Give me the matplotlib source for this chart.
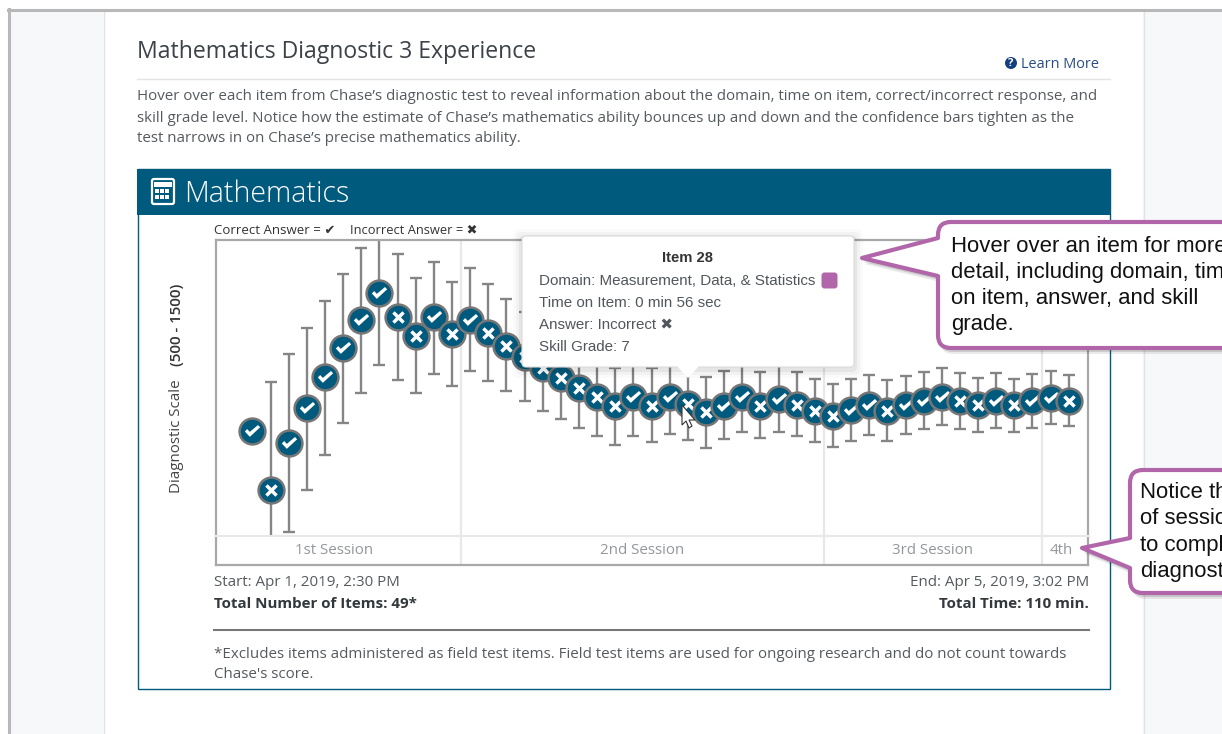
import numpy as np
import matplotlib
matplotlib.use("Agg")
import matplotlib.pyplot as plt
from matplotlib.patches import Rectangle, FancyBboxPatch, Polygon, PathPatch, Circle
from matplotlib.path import Path

plt.rcParams['font.family'] = ['Open Sans', 'DejaVu Sans']

# diagnostic scale values, first item has no bar
scores = [816, 638, 779, 883, 977, 1064, 1148, 1230, 1158, 1101, 1157, 1106, 1149, 1109, 1071, 1037,
          1004, 974, 944, 917, 891, 917, 891, 917, 896, 873, 891, 917, 891, 911, 893, 876,
          860, 878, 893, 876, 893, 906, 918, 906, 893, 906, 893, 906, 915, 906]
upper = [np.nan, 962, 1047, 1125, 1205, 1286, 1364, 1450, 1347, 1275, 1323, 1263, 1304, 1256, 1211, 1172,
         1127, 1094, 1058, 1031, 1004, 1031, 1004, 1025, 1004, 978, 995, 1022, 992, 1013, 992, 972,
         956, 971, 983, 968, 980, 992, 1004, 990, 974, 989, 972, 986, 996, 983]
lower = [np.nan, 420, 512, 638, 744, 840, 930, 1013, 968, 930, 986, 950, 996, 965, 935, 905,
         876, 851, 824, 800, 774, 801, 782, 806, 788, 765, 791, 813, 794, 813, 800, 782,
         768, 785, 803, 786, 806, 821, 833, 821, 812, 824, 813, 825, 837, 830]
correct = [1, 0, 1, 1, 1, 1, 1, 1, 0, 0, 1, 0, 1, 0, 0, 0,
           0, 0, 0, 0, 0, 1, 0, 1, 0, 0, 1, 1, 0, 1, 0, 0,
           0, 1, 1, 0, 1, 1, 1, 0, 0, 1, 0, 1, 1, 0]
session_edges = [11.5, 31.5, 43.5]
session_names = ["1st Session", "2nd Session", "3rd Session", "4th"]
session_mid = [4.5, 21.5, 37.5, 44.6]

intro = ["Hover over each item from Chase’s diagnostic test to reveal information about the domain, time on item, correct/incorrect response, and",
         "skill grade level. Notice how the estimate of Chase’s mathematics ability bounces up and down and the confidence bars tighten as the",
         "test narrows in on Chase’s precise mathematics ability."]
tooltip = ["Domain: Measurement, Data, & Statistics", "Time on Item: 0 min 56 sec", "Answer: Incorrect ✖", "Skill Grade: 7"]

NAVY = "#005a7d"
PURPLE = "#b066a8"
W, H = 1222, 734
BODY = 10.9

CHECK = Path([(-1, 0), (-0.7, 0.32), (-0.35, -0.05), (0.72, 0.85), (1, 0.55), (-0.35, -0.7), (-1, 0)], closed=True)
CROSS = Path([(-0.62, -1), (0, -0.4), (0.62, -1), (1, -0.62), (0.4, 0), (1, 0.62), (0.62, 1), (0, 0.4),
              (-0.62, 1), (-1, 0.62), (-0.4, 0), (-1, -0.62), (-0.62, -1)], closed=True)


def pixel_axes(z):
    a = fig.add_axes([0, 0, 1, 1], zorder=z)
    a.set_xlim(0, W)
    a.set_ylim(H, 0)
    a.axis("off")
    return a


def box_axes(left, top, right, bottom, z):
    return fig.add_axes([left / W, 1 - bottom / H, (right - left) / W, (bottom - top) / H], zorder=z)


def callout(a, x0, y0, x1, y1, tip, j1, j2):
    # rounded box with a pointer on its left side
    r = 13
    verts = [(x0 + r, y0), (x1, y0), (x1, y1), (x0 + r, y1), (x0, y1), (x0, y1 - r), (x0, j2), tip, (x0, j1),
             (x0, y0 + r), (x0, y0), (x0 + r, y0), (x0 + r, y0)]
    codes = [Path.MOVETO, Path.LINETO, Path.LINETO, Path.LINETO, Path.CURVE3, Path.CURVE3, Path.LINETO, Path.LINETO,
             Path.LINETO, Path.LINETO, Path.CURVE3, Path.CURVE3, Path.CLOSEPOLY]
    for off, al in [(6, 0.10), (4, 0.16), (2, 0.2)]:
        shifted = [(v[0] + off * 0.4, v[1] + off) for v in verts]
        a.add_patch(PathPatch(Path(shifted, codes), fc="#333333", ec="none", alpha=al))
    a.add_patch(PathPatch(Path(verts, codes), fc="white", ec=PURPLE, lw=3, joinstyle="round"))


fig = plt.figure(figsize=(W / 100, H / 100), dpi=100)

# page behind the chart
bg = pixel_axes(0)
bg.add_patch(Rectangle((0, 0), W, H, fc="white", ec="none"))
bg.add_patch(Rectangle((9, 9), 94, H, fc="#f7f8fa", ec="none"))
bg.add_patch(Rectangle((1143, 9), 90, H, fc="#f7f8fa", ec="none"))
bg.plot([103.5, 103.5], [10, H], color="#e3e3e3", lw=1)
bg.plot([1143.5, 1143.5], [10, H], color="#e3e3e3", lw=1)
bg.plot([0 + 8.5, 8.5], [9, H], color="#b8b8b8", lw=2.2)
bg.plot([8, W], [9.5, 9.5], color="#b8b8b8", lw=2.2)

bg.text(137, 52, "Mathematics Diagnostic 3 Experience", fontsize=16.6, color="#3c4248", va="center")
bg.add_patch(Circle((1011, 63), 6, fc="#15407f", ec="none"))
bg.text(1011, 63, "?", fontsize=8, color="white", fontweight="bold", ha="center", va="center")
bg.text(1021, 65, "Learn More", fontsize=10.45, color="#2a4d85", va="center")
bg.plot([137, 1110], [78.5, 78.5], color="#e4e4e4", lw=1)
for k, line in enumerate(intro):
    bg.text(137, 97 + 21 * k, line, fontsize=BODY, color="#555a60", va="center")

bg.add_patch(Rectangle((137.5, 169), 972, 520, fc="white", ec=NAVY, lw=1))
bg.add_patch(Rectangle((137, 169), 973, 46, fc=NAVY, ec="none"))
bg.add_patch(FancyBboxPatch((152, 179), 22, 25, boxstyle="round,pad=0,rounding_size=2", fc="none", ec="white", lw=1.6))
bg.add_patch(Rectangle((154, 182), 18, 5, fc="white", ec="none"))
for cx in [157, 162, 167]:
    for cy in [191, 197]:
        bg.add_patch(Rectangle((cx - 1.8, cy - 1.8), 3.6, 3.6, fc="white", ec="none"))
bg.text(184, 194, "Mathematics", fontsize=20.6, color="white", va="center", fontweight="light")

bg.text(214, 230.5, "Correct Answer = ✔", fontsize=9.5, color="#333333", va="center")
bg.text(350, 230.5, "Incorrect Answer = ✖", fontsize=9.3, color="#333333", va="center")
bg.text(177, 436, "Diagnostic Scale", fontsize=10.9, color="#444444", rotation=90, ha="center", va="center")
bg.text(177, 325, "(500 - 1500)", fontsize=10.9, color="#333333", rotation=90, ha="center", va="center", fontweight="semibold")

bg.text(214, 583, "Start: Apr 1, 2019, 2:30 PM", fontsize=BODY, color="#555a60", va="center")
bg.text(214, 604, "Total Number of Items: 49*", fontsize=BODY, color="#33383d", va="center", fontweight="bold")
bg.text(1089, 583, "End: Apr 5, 2019, 3:02 PM", fontsize=BODY, color="#555a60", va="center", ha="right")
bg.text(1089, 604, "Total Time: 110 min.", fontsize=BODY, color="#33383d", va="center", ha="right", fontweight="bold")
bg.plot([214, 1089], [629.5, 629.5], color="#777777", lw=1.5)
bg.text(214, 654, "*Excludes items administered as field test items. Field test items are used for ongoing research and do not count towards",
        fontsize=BODY, color="#555a60", va="center")
bg.text(214, 675, "Chase's score.", fontsize=BODY, color="#555a60", va="center")

# the chart itself
ax = box_axes(216, 240, 1088, 536, 2)
ax.patch.set_alpha(0)
x = np.arange(len(scores))
xlim = (-2.012, 46.06)
ax.set_xlim(*xlim)
ax.set_ylim(500, 1388)
for e in session_edges:
    ax.axvline(e, color="#e8e8e8", lw=1.6, zorder=1)
y = np.array(scores, dtype=float)
err = [y - np.array(lower), np.array(upper) - y]
ax.errorbar(x, y, yerr=err, fmt="none", ecolor="#858585", elinewidth=1.7, capsize=4, capthick=1.7, zorder=2)
for i in x:
    ax.plot(i, scores[i], "o", ms=18.6, mfc=NAVY, mec="#767676", mew=1.8, zorder=3 + i * 0.02, clip_on=False)
    if correct[i]:
        ax.plot(i, scores[i], marker=CHECK, ms=11, color="white", mew=0, zorder=3.01 + i * 0.02)
    else:
        ax.plot(i, scores[i], marker=CROSS, ms=9, color="white", mew=0, zorder=3.01 + i * 0.02)
ax.set_xticks([])
ax.set_yticks([])
for name in ["left", "right", "top"]:
    ax.spines[name].set_color("#a8a8a8")
    ax.spines[name].set_linewidth(1.6)
ax.spines["bottom"].set_color("#e8e8e8")
ax.spines["bottom"].set_linewidth(1.6)

# session strip under the chart
band = box_axes(216, 536, 1088, 565, 1)
band.set_xlim(*xlim)
band.set_ylim(0, 1)
band.set_xticks([])
band.set_yticks([])
for e in session_edges:
    band.axvline(e, color="#e8e8e8", lw=1.6)
for name, mid in zip(session_names, session_mid):
    band.text(mid, 0.5, name, fontsize=BODY, color="#92979c", ha="center", va="center")
for name in band.spines:
    band.spines[name].set_color("#a8a8a8")
    band.spines[name].set_linewidth(1.6)
band.spines["top"].set_visible(False)

# things lying on top of the chart
top = pixel_axes(5)
for pad, al in [(9, 0.02), (6, 0.03), (3, 0.05)]:
    top.add_patch(FancyBboxPatch((522 - pad, 236 - pad + 2), 332 + 2 * pad, 131 + 2 * pad,
                                 boxstyle="round,pad=0,rounding_size=6", fc="black", ec="none", alpha=al))
top.add_patch(FancyBboxPatch((522, 236), 332, 131, boxstyle="round,pad=0,rounding_size=4", fc="white", ec="#dcdcdc", lw=0.8))
top.add_patch(Polygon([(677, 366), (699, 366), (688, 378)], fc="white", ec="none"))
top.text(688, 258.5, "Item 28", fontsize=10.6, family="Liberation Sans", fontweight="bold", color="#333333", ha="center", va="center")
for k, line in enumerate(tooltip):
    top.text(539, 281 + 22 * k, line, fontsize=10.9, family=["Liberation Sans", "DejaVu Sans"], color="#50565c", va="center")
top.add_patch(FancyBboxPatch((821.5, 272.5), 16, 16, boxstyle="round,pad=0,rounding_size=3", fc=PURPLE, ec="none"))
top.add_patch(Polygon([(682, 405), (682, 425), (686, 421), (689, 428), (692, 426), (689, 420), (695, 420)],
                      fc="white", ec="#333333", lw=0.8))

callout(top, 938, 222, 1240, 348, (862, 258), 238, 276)
for k, line in enumerate(["Hover over an item for more", "detail, including domain, time", "on item, answer, and skill", "grade."]):
    top.text(951, 246 + 26.3 * k, line, fontsize=15.9, family="Liberation Sans", color="#111111", va="center", clip_on=True)

callout(top, 1130, 470, 1240, 593, (1082, 548), 538, 568)
for k, line in enumerate(["Notice the number", "of sessions it took", "to complete the", "diagnostic."]):
    top.text(1140, 492.5 + 26.3 * k, line, fontsize=15.9, family="Liberation Sans", color="#111111", va="center", clip_on=True)

fig.savefig("out.png", dpi=100)
